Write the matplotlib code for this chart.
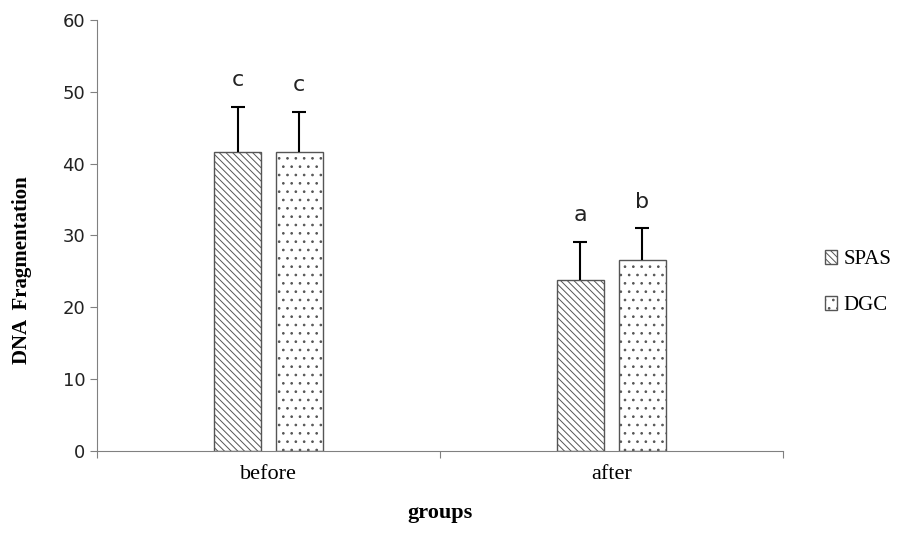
import matplotlib.pyplot as plt
import numpy as np

groups = ["before", "after"]
series = ["SPAS", "DGC"]
spas = [41.6, 23.8]
spas_err = [6.3, 5.3]
dgc = [41.6, 26.6]
dgc_err = [5.6, 4.4]
letters_spas = ["c", "a"]
letters_dgc = ["c", "b"]

plt.rcParams['hatch.linewidth'] = 0.7

fig = plt.figure(figsize=(9.06, 5.35), dpi=100)
ax = fig.add_axes([0.107, 0.157, 0.757, 0.806])

x = np.arange(len(groups))
w = 0.137
off = 0.09
edge = "#555555"

ax.bar(x - off, spas, w, fc="white", ec=edge, hatch="\\\\\\\\\\", lw=1.0, label=series[0])
ax.bar(x + off, dgc, w, fc="white", ec=edge, hatch="..", lw=1.0, label=series[1])

for pos, vals, errs in [(x - off, spas, spas_err), (x + off, dgc, dgc_err)]:
    _, caps, _ = ax.errorbar(pos, vals, yerr=[np.zeros(2), errs], fmt="none", ecolor="black",
                             elinewidth=1.5, capsize=5, capthick=1.5)
    caps[0].set_visible(False)

for i in range(len(groups)):
    ax.text(x[i] - off, spas[i] + spas_err[i] + 2.3, letters_spas[i], ha="center", va="bottom",
            fontsize=16, family="DejaVu Sans", color="#222222")
    ax.text(x[i] + off, dgc[i] + dgc_err[i] + 2.3, letters_dgc[i], ha="center", va="bottom",
            fontsize=16, family="DejaVu Sans", color="#222222")

ax.set_xlim(-0.5, 1.5)
ax.set_ylim(0, 60)
ax.set_yticks(range(0, 61, 10))
ax.set_xticks([-0.5, 0.5, 1.5])
ax.set_xticklabels([])
ax.set_xticks(x, minor=True)
ax.set_xticklabels(groups, minor=True, family="Liberation Serif", fontsize=16)
ax.tick_params(axis="x", which="minor", length=0, pad=10)
ax.tick_params(axis="x", which="major", length=5, color="#808080")
ax.tick_params(axis="y", length=5, color="#808080", labelsize=13, labelcolor="#222222")

for s in ["top", "right"]:
    ax.spines[s].set_visible(False)
for s in ["left", "bottom"]:
    ax.spines[s].set_color("#808080")

ax.set_ylabel("DNA  Fragmentation", family="Liberation Serif", fontweight="bold", fontsize=15)
ax.yaxis.set_label_coords(-0.095, 0.42)
ax.set_xlabel("groups", family="Liberation Serif", fontweight="bold", fontsize=16, labelpad=14)

ax.legend(loc="center left", bbox_to_anchor=(1.04, 0.39), frameon=False,
          prop={"family": "Liberation Serif", "size": 15}, handlelength=0.6, handleheight=0.6,
          handletextpad=0.3, labelspacing=1.3, borderpad=0.2)

fig.savefig("out.png", dpi=100)
